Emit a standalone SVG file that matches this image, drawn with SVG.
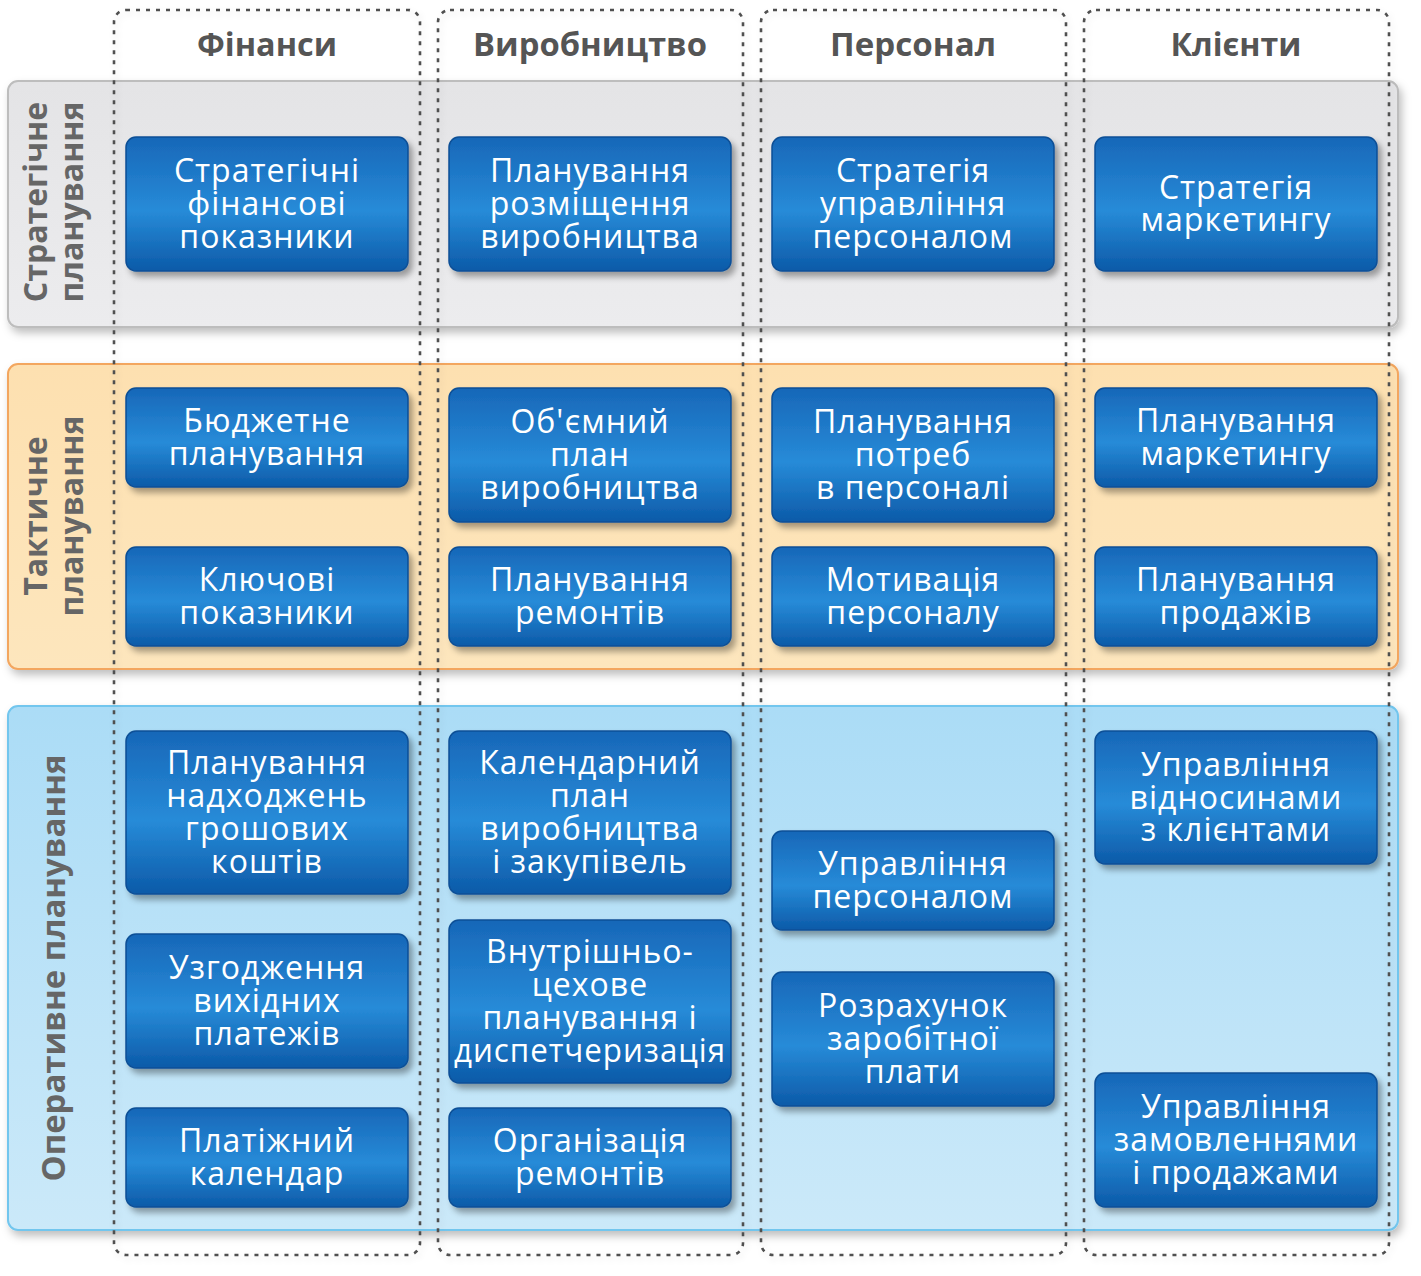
<svg xmlns="http://www.w3.org/2000/svg" width="1421" height="1276" viewBox="0 0 1421 1276">
<style>
.band{stroke-width:2}
.col{fill:none;stroke:#505050;stroke-width:2.6;stroke-dasharray:4 6}
.node rect{fill:url(#nodeGrad);stroke:#0c4f96;stroke-width:1.5;filter:url(#nodeShadow)}
.node text{font-family:"Open Sans","Noto Sans","DejaVu Sans",sans-serif;font-size:32px;letter-spacing:1px;fill:#fff;text-anchor:middle}
.hdr{font-family:"Open Sans","Noto Sans","DejaVu Sans",sans-serif;font-size:33px;font-weight:bold;fill:#555;text-anchor:middle}
.lbl{font-family:"Open Sans","Noto Sans","DejaVu Sans",sans-serif;font-size:32px;font-weight:bold;fill:#666;text-anchor:middle}
</style>
<defs>
<linearGradient id="nodeGrad" x1="0" y1="0" x2="0" y2="1">
<stop offset="0" stop-color="#1767b8"/>
<stop offset="0.55" stop-color="#278bd8"/>
<stop offset="1" stop-color="#0c5aa8"/>
</linearGradient>
<linearGradient id="grayGrad" x1="0" y1="0" x2="0" y2="1">
<stop offset="0" stop-color="#e4e4e6"/>
<stop offset="1" stop-color="#ececee"/>
</linearGradient>
<linearGradient id="orangeGrad" x1="0" y1="0" x2="0" y2="1">
<stop offset="0" stop-color="#fde0b0"/>
<stop offset="1" stop-color="#fde6bd"/>
</linearGradient>
<linearGradient id="blueGrad" x1="0" y1="0" x2="0" y2="1">
<stop offset="0" stop-color="#abdcf6"/>
<stop offset="1" stop-color="#cbe9f9"/>
</linearGradient>
<filter id="nodeShadow" x="-10%" y="-10%" width="125%" height="130%">
<feDropShadow dx="4" dy="5" stdDeviation="3" flood-color="#000" flood-opacity="0.35"/>
</filter>
<filter id="bandShadow" x="-5%" y="-10%" width="110%" height="125%">
<feDropShadow dx="3" dy="5" stdDeviation="4" flood-color="#000" flood-opacity="0.25"/>
</filter>
<filter id="colShadow" x="-10%" y="-5%" width="120%" height="110%">
<feDropShadow dx="2" dy="3" stdDeviation="3" flood-color="#000" flood-opacity="0.12"/>
</filter>
</defs>
<rect width="1421" height="1276" fill="#fff"/>

<g id="bands">
<rect id="band-strategic" class="band" x="8" y="81" width="1390" height="246" rx="10" fill="url(#grayGrad)" stroke="#bdbdbd" filter="url(#bandShadow)"/>
<rect id="band-tactical" class="band" x="8" y="364" width="1390" height="305" rx="10" fill="url(#orangeGrad)" stroke="#f3a65e" filter="url(#bandShadow)"/>
<rect id="band-operational" class="band" x="8" y="706" width="1390" height="524" rx="10" fill="url(#blueGrad)" stroke="#72c6ee" filter="url(#bandShadow)"/>
<text class="lbl" transform="translate(47,202) rotate(-90)">Стратегічне</text>
<text class="lbl" transform="translate(83,202) rotate(-90)">планування</text>
<text class="lbl" transform="translate(47,516) rotate(-90)">Тактичне</text>
<text class="lbl" transform="translate(83,516) rotate(-90)">планування</text>
<text class="lbl" transform="translate(65,968) rotate(-90)" textLength="427" lengthAdjust="spacingAndGlyphs">Оперативне планування</text>
</g>

<g id="columns">
<g id="col-finance"><rect class="col" x="114" y="10" width="306" height="1245" rx="12" filter="url(#colShadow)"/><text class="hdr" x="267" y="56" textLength="140" lengthAdjust="spacingAndGlyphs">Фінанси</text></g>
<g id="col-production"><rect class="col" x="438" y="10" width="305" height="1245" rx="12" filter="url(#colShadow)"/><text class="hdr" x="590" y="56" textLength="234" lengthAdjust="spacingAndGlyphs">Виробництво</text></g>
<g id="col-personnel"><rect class="col" x="761" y="10" width="305" height="1245" rx="12" filter="url(#colShadow)"/><text class="hdr" x="913" y="56" textLength="166" lengthAdjust="spacingAndGlyphs">Персонал</text></g>
<g id="col-clients"><rect class="col" x="1084" y="10" width="305" height="1245" rx="12" filter="url(#colShadow)"/><text class="hdr" x="1236" y="56" textLength="131" lengthAdjust="spacingAndGlyphs">Клієнти</text></g>
</g>

<g id="connectors"></g>

<g id="n-s-fin" class="node"><rect x="126" y="137" width="282" height="134" rx="10"/><text><tspan x="267" y="182">Стратегічні</tspan><tspan x="267" y="215">фінансові</tspan><tspan x="267" y="248">показники</tspan></text></g>
<g id="n-s-prod" class="node"><rect x="449" y="137" width="282" height="134" rx="10"/><text><tspan x="590" y="182">Планування</tspan><tspan x="590" y="215">розміщення</tspan><tspan x="590" y="248">виробництва</tspan></text></g>
<g id="n-s-pers" class="node"><rect x="772" y="137" width="282" height="134" rx="10"/><text><tspan x="913" y="182">Стратегія</tspan><tspan x="913" y="215">управління</tspan><tspan x="913" y="248">персоналом</tspan></text></g>
<g id="n-s-cli" class="node"><rect x="1095" y="137" width="282" height="134" rx="10"/><text><tspan x="1236" y="199">Стратегія</tspan><tspan x="1236" y="231">маркетингу</tspan></text></g>

<g id="n-t-fin1" class="node"><rect x="126" y="388" width="282" height="99" rx="10"/><text><tspan x="267" y="432">Бюджетне</tspan><tspan x="267" y="465">планування</tspan></text></g>
<g id="n-t-prod1" class="node"><rect x="449" y="388" width="282" height="134" rx="10"/><text><tspan x="590" y="433">Об'ємний</tspan><tspan x="590" y="466">план</tspan><tspan x="590" y="499">виробництва</tspan></text></g>
<g id="n-t-pers1" class="node"><rect x="772" y="388" width="282" height="134" rx="10"/><text><tspan x="913" y="433">Планування</tspan><tspan x="913" y="466">потреб</tspan><tspan x="913" y="499">в персоналі</tspan></text></g>
<g id="n-t-cli1" class="node"><rect x="1095" y="388" width="282" height="99" rx="10"/><text><tspan x="1236" y="432">Планування</tspan><tspan x="1236" y="465">маркетингу</tspan></text></g>

<g id="n-t-fin2" class="node"><rect x="126" y="547" width="282" height="99" rx="10"/><text><tspan x="267" y="591">Ключові</tspan><tspan x="267" y="624">показники</tspan></text></g>
<g id="n-t-prod2" class="node"><rect x="449" y="547" width="282" height="99" rx="10"/><text><tspan x="590" y="591">Планування</tspan><tspan x="590" y="624">ремонтів</tspan></text></g>
<g id="n-t-pers2" class="node"><rect x="772" y="547" width="282" height="99" rx="10"/><text><tspan x="913" y="591">Мотивація</tspan><tspan x="913" y="624">персоналу</tspan></text></g>
<g id="n-t-cli2" class="node"><rect x="1095" y="547" width="282" height="99" rx="10"/><text><tspan x="1236" y="591">Планування</tspan><tspan x="1236" y="624">продажів</tspan></text></g>

<g id="n-o-fin1" class="node"><rect x="126" y="731" width="282" height="163" rx="10"/><text><tspan x="267" y="774">Планування</tspan><tspan x="267" y="807">надходжень</tspan><tspan x="267" y="840">грошових</tspan><tspan x="267" y="873">коштів</tspan></text></g>
<g id="n-o-fin2" class="node"><rect x="126" y="934" width="282" height="134" rx="10"/><text><tspan x="267" y="979">Узгодження</tspan><tspan x="267" y="1012">вихідних</tspan><tspan x="267" y="1045">платежів</tspan></text></g>
<g id="n-o-fin3" class="node"><rect x="126" y="1108" width="282" height="99" rx="10"/><text><tspan x="267" y="1152">Платіжний</tspan><tspan x="267" y="1185">календар</tspan></text></g>

<g id="n-o-prod1" class="node"><rect x="449" y="731" width="282" height="163" rx="10"/><text><tspan x="590" y="774">Календарний</tspan><tspan x="590" y="807">план</tspan><tspan x="590" y="840">виробництва</tspan><tspan x="590" y="873">і закупівель</tspan></text></g>
<g id="n-o-prod2" class="node"><rect x="449" y="920" width="282" height="163" rx="10"/><text><tspan x="590" y="963">Внутрішньо-</tspan><tspan x="590" y="996">цехове</tspan><tspan x="590" y="1029">планування і</tspan><tspan x="590" y="1062" textLength="272" lengthAdjust="spacingAndGlyphs">диспетчеризація</tspan></text></g>
<g id="n-o-prod3" class="node"><rect x="449" y="1108" width="282" height="99" rx="10"/><text><tspan x="590" y="1152">Організація</tspan><tspan x="590" y="1185">ремонтів</tspan></text></g>

<g id="n-o-pers1" class="node"><rect x="772" y="831" width="282" height="99" rx="10"/><text><tspan x="913" y="875">Управління</tspan><tspan x="913" y="908">персоналом</tspan></text></g>
<g id="n-o-pers2" class="node"><rect x="772" y="972" width="282" height="134" rx="10"/><text><tspan x="913" y="1017">Розрахунок</tspan><tspan x="913" y="1050">заробітної</tspan><tspan x="913" y="1083">плати</tspan></text></g>

<g id="n-o-cli1" class="node"><rect x="1095" y="731" width="282" height="133" rx="10"/><text><tspan x="1236" y="776">Управління</tspan><tspan x="1236" y="809">відносинами</tspan><tspan x="1236" y="841">з клієнтами</tspan></text></g>
<g id="n-o-cli2" class="node"><rect x="1095" y="1073" width="282" height="134" rx="10"/><text><tspan x="1236" y="1118">Управління</tspan><tspan x="1236" y="1151">замовленнями</tspan><tspan x="1236" y="1184">і продажами</tspan></text></g>
</svg>
